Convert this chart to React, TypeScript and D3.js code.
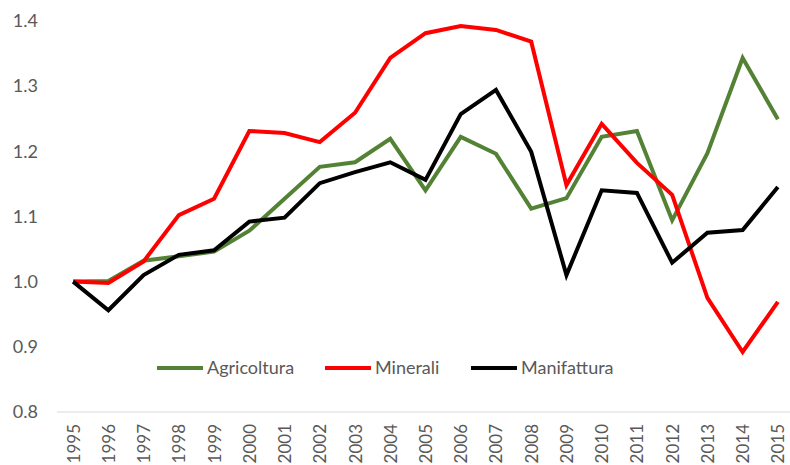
import React from "react";
import * as d3 from "d3";

const years = ["1995","1996","1997","1998","1999","2000","2001","2002","2003","2004","2005","2006","2007","2008","2009","2010","2011","2012","2013","2014","2015"];
const agricoltura = [1.0,1.001,1.032,1.039,1.046,1.078,1.127,1.176,1.183,1.219,1.140,1.222,1.196,1.112,1.128,1.222,1.231,1.094,1.197,1.343,1.249];
const minerali = [1.0,0.998,1.031,1.102,1.127,1.231,1.228,1.214,1.259,1.343,1.381,1.392,1.386,1.368,1.148,1.242,1.182,1.133,0.975,0.892,0.969];
const manifattura = [1.0,0.956,1.010,1.041,1.048,1.092,1.098,1.151,1.168,1.183,1.156,1.257,1.294,1.199,1.010,1.140,1.136,1.029,1.075,1.079,1.145];
const yTicks = [0.8,0.9,1.0,1.1,1.2,1.3,1.4];
const seriesNames = ["Agricoltura","Minerali","Manifattura"];
const seriesColors = ["#548235","#FF0000","#000000"];

const W = 790, H = 465;
const FONT = "Lato, 'Open Sans', sans-serif";

export default function App() {
  const x = d3.scaleBand().domain(years).range([55.5, 795.5]);
  const y = d3.scaleLinear().domain([0.8, 1.4]).range([412, 20.8]);
  const line = d3.line<number>()
    .x((_, i) => (x(years[i]) as number) + x.bandwidth() / 2)
    .y((d) => y(d));
  const data = [agricoltura, minerali, manifattura];
  const legendX = [157, 325, 471];
  return (
    <svg width={W} height={H} style={{ position: "absolute", left: 0, top: 0, background: "#fff" }}>
      <line x1={57} x2={W} y1={y(0.8)} y2={y(0.8)} stroke="#d9d9d9" strokeWidth={1} />
      {yTicks.map((t) => (
        <text key={t} x={38} y={y(t)} dy="0.35em" textAnchor="end" fontFamily={FONT} fontSize={18} fill="#595959">
          {d3.format(".1f")(t)}
        </text>
      ))}
      {years.map((yr) => {
        const cx = (x(yr) as number) + x.bandwidth() / 2;
        return (
          <text key={yr} transform={`translate(${cx + 6.5},424) rotate(-90)`} textAnchor="end" fontFamily={FONT} fontSize={17} fill="#595959">
            {yr}
          </text>
        );
      })}
      {data.map((d, i) => (
        <path key={i} d={line(d) || ""} fill="none" stroke={seriesColors[i]} strokeWidth={4} strokeLinejoin="miter" />
      ))}
      {seriesNames.map((n, i) => (
        <g key={n}>
          <line x1={legendX[i]} x2={legendX[i] + 46} y1={368} y2={368} stroke={seriesColors[i]} strokeWidth={4} />
          <text x={legendX[i] + 50} y={368} dy="0.35em" fontFamily={FONT} fontSize={18} fill="#595959">{n}</text>
        </g>
      ))}
    </svg>
  );
}
